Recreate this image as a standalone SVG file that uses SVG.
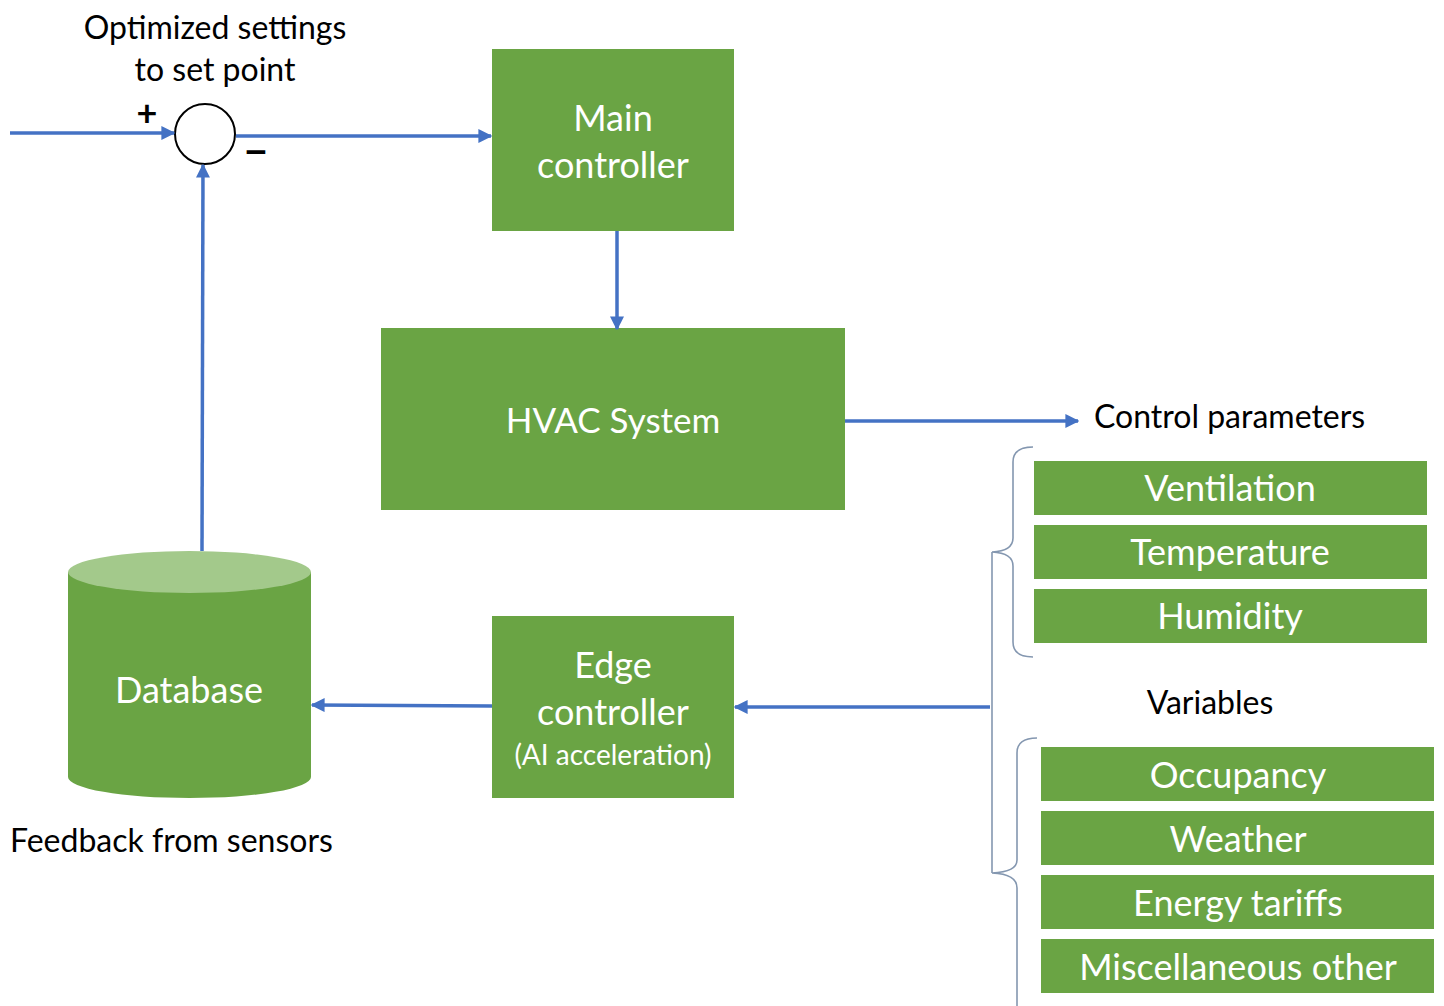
<svg xmlns="http://www.w3.org/2000/svg" width="1444" height="1006" viewBox="0 0 1444 1006">
  <style>
    .box { fill: #6aa444; }
    .lbl { font-family: Lato, "Open Sans", sans-serif; fill: #ffffff; text-anchor: middle; }
    .txt { font-family: Lato, "Open Sans", sans-serif; fill: #000000; }
    .wire { stroke: #4472c4; stroke-width: 3.5; fill: none; }
    .brace { stroke: #8497b0; stroke-width: 1.6; fill: none; }
  </style>
  <defs>
    <marker id="arrow" viewBox="0 0 10 10" refX="9" refY="5" markerWidth="4" markerHeight="4" orient="auto" markerUnits="strokeWidth">
      <path d="M0,0 L10,5 L0,10 z" fill="#4472c4"/>
    </marker>
  </defs>
  <rect width="1444" height="1006" fill="#ffffff"/>

  <!-- labels -->
  <text class="txt" x="215" y="39" font-size="32" text-anchor="middle">Optimized settings</text>
  <text class="txt" x="215" y="81" font-size="32" text-anchor="middle">to set point</text>
  <text class="txt" x="147" y="126" font-size="36" font-weight="bold" text-anchor="middle">+</text>
  <text class="txt" x="256" y="166" font-size="42" font-weight="bold" text-anchor="middle">−</text>
  <text class="txt" x="1094" y="428" font-size="32">Control parameters</text>
  <text class="txt" x="1210" y="714" font-size="32" text-anchor="middle">Variables</text>
  <text class="txt" x="10" y="852" font-size="32">Feedback from sensors</text>

  <!-- summing junction -->
  <g id="sum">
    <circle cx="205" cy="134" r="30" fill="#ffffff" stroke="#000000" stroke-width="2"/>
  </g>

  <g id="main-controller">
    <rect class="box" x="492" y="49" width="242" height="182"/>
    <text class="lbl" x="613" y="131" font-size="36">Main</text>
    <text class="lbl" x="613" y="178" font-size="36">controller</text>
  </g>

  <g id="hvac">
    <rect class="box" x="381" y="328" width="464" height="182"/>
    <text class="lbl" x="613" y="433" font-size="35">HVAC System</text>
  </g>

  <g id="edge-controller">
    <rect class="box" x="492" y="616" width="242" height="182"/>
    <text class="lbl" x="613" y="678" font-size="36">Edge</text>
    <text class="lbl" x="613" y="725" font-size="36">controller</text>
    <text class="lbl" x="613" y="765" font-size="28">(AI acceleration)</text>
  </g>

  <g id="database">
    <path d="M68,572 L68,777 A121.5,21 0 0 0 311,777 L311,572 Z" fill="#6aa444"/>
    <ellipse cx="189.5" cy="572" rx="121.5" ry="21" fill="#a3c98b"/>
    <text class="lbl" x="189" y="703" font-size="36">Database</text>
  </g>

  <!-- control parameters -->
  <g id="ventilation">
    <rect class="box" x="1034" y="461" width="393" height="54"/>
    <text class="lbl" x="1230" y="501" font-size="36">Ventilation</text>
  </g>
  <g id="temperature">
    <rect class="box" x="1034" y="525" width="393" height="54"/>
    <text class="lbl" x="1230" y="565" font-size="36">Temperature</text>
  </g>
  <g id="humidity">
    <rect class="box" x="1034" y="589" width="393" height="54"/>
    <text class="lbl" x="1230" y="629" font-size="36">Humidity</text>
  </g>

  <!-- variables -->
  <g id="occupancy">
    <rect class="box" x="1041" y="747" width="393" height="54"/>
    <text class="lbl" x="1238" y="788" font-size="36">Occupancy</text>
  </g>
  <g id="weather">
    <rect class="box" x="1041" y="811" width="393" height="54"/>
    <text class="lbl" x="1238" y="852" font-size="36">Weather</text>
  </g>
  <g id="energy-tariffs">
    <rect class="box" x="1041" y="875" width="393" height="54"/>
    <text class="lbl" x="1238" y="916" font-size="36">Energy tariffs</text>
  </g>
  <g id="misc">
    <rect class="box" x="1041" y="939" width="393" height="54"/>
    <text class="lbl" x="1238" y="980" font-size="36">Miscellaneous other</text>
  </g>

  <!-- braces grouping the inputs -->
  <g id="braces">
    <path class="brace" d="M1033,447 Q1013,447 1013,462 L1013,538 Q1013,551 992,552 Q1013,553 1013,566 L1013,642 Q1013,657 1033,657"/>
    <path class="brace" d="M1037,738 Q1017,738 1017,753 L1017,860 Q1017,872 992,873 Q1017,874 1017,888 L1017,1006"/>
    <path class="brace" d="M992,552 L992,873"/>
  </g>

  <g id="connectors">
    <line class="wire" x1="10" y1="133" x2="174" y2="133" marker-end="url(#arrow)"/>
    <line class="wire" x1="236" y1="136" x2="491" y2="136" marker-end="url(#arrow)"/>
    <line class="wire" x1="617" y1="231" x2="617" y2="329" marker-end="url(#arrow)"/>
    <line class="wire" x1="845" y1="421" x2="1078" y2="421" marker-end="url(#arrow)"/>
    <line class="wire" x1="990" y1="707" x2="735" y2="707" marker-end="url(#arrow)"/>
    <line class="wire" x1="492" y1="706" x2="312" y2="705" marker-end="url(#arrow)"/>
    <line class="wire" x1="202" y1="551" x2="203" y2="165" marker-end="url(#arrow)"/>
  </g>
</svg>
